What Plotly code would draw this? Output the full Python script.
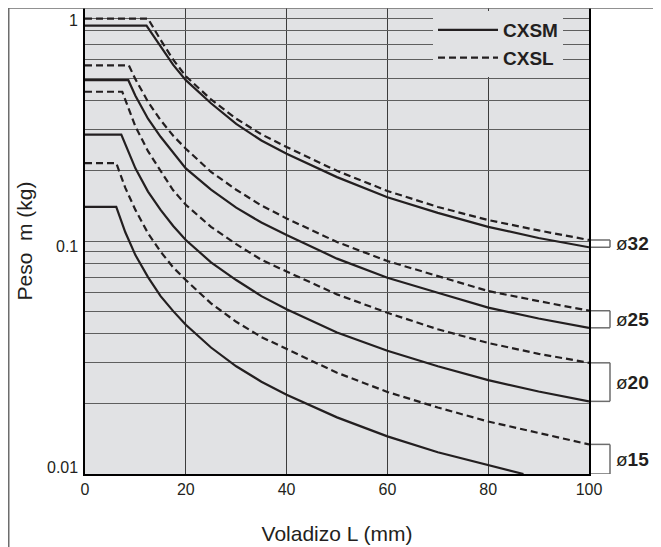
import numpy as np
import plotly.graph_objects as go

# ---------------- data ----------------
# Overhang L (mm) and load m (kg) per bore size; CXSM = solid, CXSL = dashed
L32_M = [0, 12.2, 15, 17.5, 20, 25, 30, 35, 40, 50, 60, 70, 80, 90, 100]
M32_M = [0.84, 0.84, 0.685, 0.57, 0.49, 0.39, 0.318, 0.27, 0.237, 0.188, 0.154, 0.132, 0.115, 0.103, 0.094]
L32_L = [0, 12.5, 15, 17.5, 20, 25, 30, 35, 40, 50, 60, 70, 80, 90, 100]
M32_L = [0.90, 0.90, 0.73, 0.60, 0.51, 0.405, 0.335, 0.287, 0.253, 0.20, 0.164, 0.14, 0.123, 0.111, 0.101]

L25_M = [0, 8.6, 10, 12.5, 15, 17.5, 20, 25, 30, 35, 40, 50, 60, 70, 80, 90, 100]
M25_M = [0.49, 0.49, 0.42, 0.335, 0.28, 0.24, 0.205, 0.166, 0.139, 0.12, 0.106, 0.084, 0.0695, 0.06, 0.0518, 0.0465, 0.0424]
L25_L = [0, 8.7, 10, 12.5, 15, 17.5, 20, 25, 30, 35, 40, 50, 60, 70, 80, 90, 100]
M25_L = [0.567, 0.567, 0.495, 0.396, 0.33, 0.283, 0.249, 0.198, 0.166, 0.142, 0.125, 0.099, 0.082, 0.0705, 0.061, 0.0552, 0.0502]

L20_M = [0, 7.2, 10, 12.5, 15, 17.5, 20, 25, 30, 35, 40, 50, 60, 70, 80, 90, 100]
M20_M = [0.286, 0.286, 0.205, 0.163, 0.136, 0.116, 0.101, 0.081, 0.068, 0.058, 0.051, 0.0405, 0.0338, 0.029, 0.0253, 0.0226, 0.0205]
L20_L = [0, 7.4, 10, 12.5, 15, 17.5, 20, 25, 30, 35, 40, 50, 60, 70, 80, 90, 100]
M20_L = [0.437, 0.437, 0.31, 0.243, 0.2, 0.165, 0.143, 0.115, 0.097, 0.083, 0.074, 0.059, 0.0492, 0.0418, 0.0365, 0.0328, 0.030]

L15_M = [0, 6.2, 8, 10, 12.5, 15, 17.5, 20, 25, 30, 35, 40, 50, 60, 70, 80, 87]
M15_M = [0.14, 0.14, 0.109, 0.087, 0.07, 0.058, 0.05, 0.0437, 0.0349, 0.029, 0.0249, 0.0219, 0.0175, 0.0145, 0.0124, 0.0109, 0.0100]
L15_L = [0, 6.2, 8, 10, 12.5, 15, 17.5, 20, 25, 30, 35, 40, 50, 60, 70, 80, 90, 100]
M15_L = [0.216, 0.216, 0.169, 0.136, 0.108, 0.09, 0.077, 0.068, 0.054, 0.045, 0.0387, 0.0345, 0.0272, 0.0225, 0.0193, 0.0168, 0.015, 0.0134]

BORES = ["32", "25", "20", "15"]
SERIES_NAMES = ["CXSM", "CXSL"]

X_TICKS = [0, 20, 40, 60, 80, 100]
Y_GRID = [0.01, 0.02, 0.03, 0.04, 0.05, 0.06, 0.07, 0.08, 0.09,
          0.1, 0.2, 0.3, 0.4, 0.5, 0.6, 0.7, 0.8, 0.9, 1]
Y_LABELS = ["0.01", "0.1", "1"]

X_TITLE = "Voladizo L (mm)"
Y_TITLE = "Peso\u00a0 m (kg)"

# ---------------- styling ----------------
BG = "#e1e2e4"
INK = "#231f20"
FONT = "Liberation Sans, Arial, Helvetica, sans-serif"
DASH = "7px,4px"

data = {
    "32": ((L32_M, M32_M), (L32_L, M32_L)),
    "25": ((L25_M, M25_M), (L25_L, M25_L)),
    "20": ((L20_M, M20_M), (L20_L, M20_L)),
    "15": ((L15_M, M15_M), (L15_L, M15_L)),
}

fig = go.Figure()
for bore in BORES:
    for k, (L, M) in enumerate(data[bore]):
        name = SERIES_NAMES[k]
        fig.add_trace(go.Scatter(
            x=L, y=M, mode="lines", name=name, legendgroup=name,
            showlegend=(bore == "32"),
            line=dict(color=INK, width=2.2, dash="solid" if k == 0 else DASH),
            hoverinfo="skip",
        ))

# page has an 8px body margin; figure is sized so the plot lands where the reference has it
OFF = 8
W, H = 653, 539
ML, MR, MT, MB = 77, 72, 0, 73
PW, PH = W - ML - MR, H - MT - MB


def px_to_xpaper(px):  # page pixel -> paper x
    return (px - OFF - ML) / PW


def py_to_ypaper(py):  # page pixel -> paper y
    return (H - MB - (py - OFF)) / PH


shapes = []
annotations = []
GRAY = "#6d6d6d"

# outer frame lines (top and left)
shapes.append(dict(type="line", xref="paper", yref="paper",
                   x0=px_to_xpaper(OFF + 0.75), x1=px_to_xpaper(W + OFF + 2), y0=1, y1=1,
                   line=dict(color=GRAY, width=1.5)))
shapes.append(dict(type="line", xref="paper", yref="paper",
                   x0=px_to_xpaper(OFF + 0.75), x1=px_to_xpaper(OFF + 0.75),
                   y0=1, y1=py_to_ypaper(H + OFF + 2),
                   line=dict(color=GRAY, width=1.5)))

# right-side brackets with bore labels
bx0, bx1 = px_to_xpaper(591), px_to_xpaper(610)
for bore in BORES:
    (Ls, Ms), (Ld, Md) = data[bore]
    top = Md[-1]
    bot = Ms[-1]
    for yv in (top, bot):
        shapes.append(dict(type="line", xref="paper", yref="y",
                           x0=bx0, x1=bx1, y0=yv, y1=yv,
                           line=dict(color=GRAY, width=1.5)))
    shapes.append(dict(type="line", xref="paper", yref="y",
                       x0=bx1, x1=bx1, y0=top, y1=bot,
                       line=dict(color=GRAY, width=1.5)))
    annotations.append(dict(
        xref="paper", yref="y", x=px_to_xpaper(614), xanchor="left",
        y=(np.log10(top) + np.log10(bot)) / 2, yanchor="middle",
        text="ø<b>" + bore + "</b>", showarrow=False,
        font=dict(family=FONT, size=19, color=INK)))

# y tick labels (offset like the reference print)
label_shift = {"1": -12, "0.1": -5, "0.01": 7}
for lab in Y_LABELS:
    annotations.append(dict(
        xref="paper", yref="y", x=px_to_xpaper(80), xanchor="right",
        y=np.log10(float(lab)), yanchor="middle", yshift=label_shift[lab],
        text=lab, showarrow=False,
        font=dict(family=FONT, size=16, color=INK)))

fig.update_layout(
    width=W, height=H,
    margin=dict(l=ML, r=MR, t=MT, b=MB, autoexpand=False),
    paper_bgcolor="white", plot_bgcolor=BG,
    font=dict(family=FONT, color=INK),
    shapes=shapes, annotations=annotations,
    showlegend=True,
    legend=dict(x=px_to_xpaper(433), xanchor="left",
                y=py_to_ypaper(11), yanchor="top",
                bgcolor=BG, borderwidth=0, itemwidth=60,
                font=dict(family=FONT, size=19, color=INK, weight="bold"),
                tracegroupgap=0, itemclick=False),
    xaxis=dict(range=[0, 100], tickvals=X_TICKS, ticks="",
               showgrid=True, gridcolor="#3c3c3c", gridwidth=1.2,
               showline=True, linecolor="black", linewidth=2, mirror=False,
               zeroline=False, tickfont=dict(size=16, color=INK),
               title=dict(text=X_TITLE, font=dict(size=21, color=INK), standoff=29)),
    yaxis=dict(type="log", range=[-2, 0], tickvals=Y_GRID,
               ticktext=["" for _ in Y_GRID], ticks="",
               showgrid=True, gridcolor="#5e5e5e", gridwidth=1.2,
               showline=True, linecolor="black", linewidth=2, mirror=True,
               zeroline=False, tickfont=dict(size=16, color=INK),
               title=dict(text=Y_TITLE, font=dict(size=21, color=INK), standoff=41)),
)

fig.write_html("out.html")
